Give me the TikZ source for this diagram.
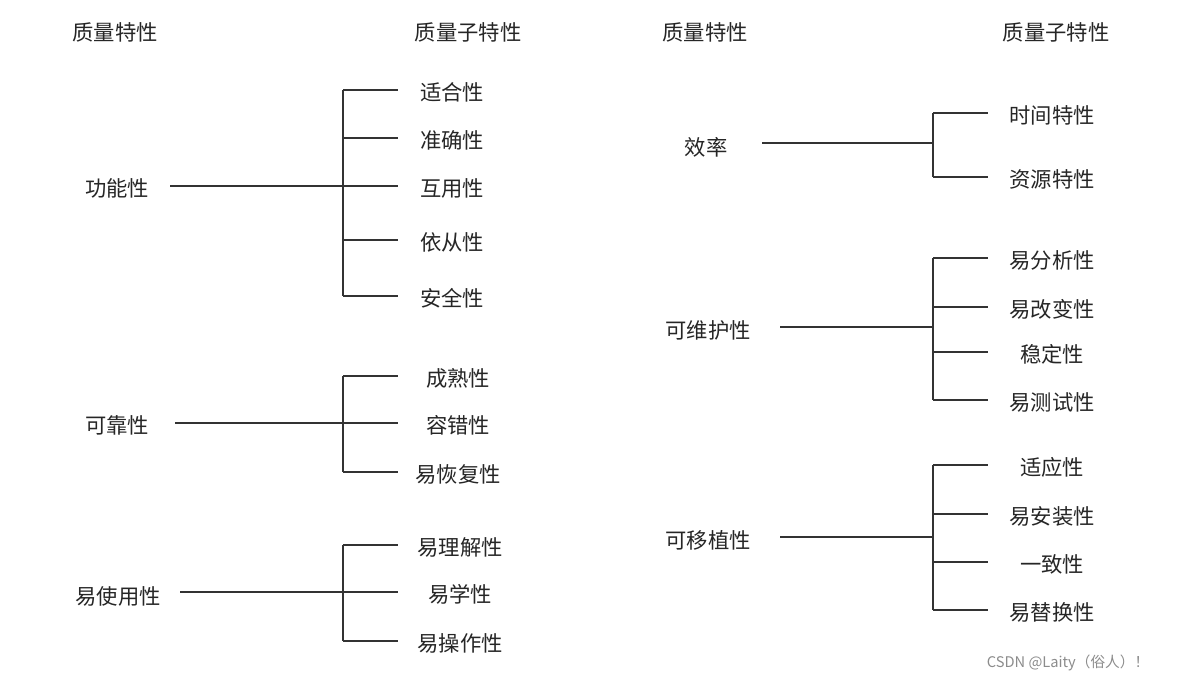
\documentclass[tikz,border=0pt]{standalone}
\usepackage{fontspec}
\newfontfamily\cjk{Noto Sans CJK SC}
\begin{document}
\begin{tikzpicture}[x=0.75pt,y=-0.75pt,
  lbl/.style={font=\cjk\fontsize{16}{18}\selectfont,inner sep=1pt,text=black!85},
  ln/.style={draw=black!80,line width=0.9pt}]
\useasboundingbox (0,0) rectangle (1184,683);
\fill[white] (0,0) rectangle (1184,683);
\node[lbl] (h1) at (115,32) {质量特性};
\node[lbl] (h2) at (468,32) {质量子特性};
\node[lbl] (h3) at (705,32) {质量特性};
\node[lbl] (h4) at (1056,32) {质量子特性};
% groups: name, x, y, lineStart, bracketX, subX, list of y/text
\foreach \g/\t/\mx/\my/\ls/\bx/\sx/\ly/\subs in {
  a/功能性/117/188/170/343/452/186/{90/适合性,138/准确性,186/互用性,240/依从性,296/安全性},
  b/可靠性/117/425/175/343/458/423/{376/成熟性,423/容错性,472/易恢复性},
  c/易使用性/118/596/180/343/460/592/{545/易理解性,592/易学性,641/易操作性},
  d/效率/706/147/762/933/1052/143/{113/时间特性,177/资源特性},
  e/可维护性/708/330/780/933/1052/327/{258/易分析性,307/易改变性,352/稳定性,400/易测试性},
  f/可移植性/708/540/780/933/1052/537/{465/适应性,514/易安装性,562/一致性,610/易替换性}}{
  \node[lbl] (m\g) at (\mx,\my) {\t};
  \coordinate (j\g) at (\bx,\ly);
  \draw[ln] (\ls,\ly) coordinate (s\g) -- (j\g);
  \foreach \yy/\st [count=\i] in \subs {
    \node[lbl] (n\g\i) at (\sx,\yy+2) {\st};
    \coordinate (b\g\i) at (\bx,\yy);
    \coordinate (e\g\i) at (\bx+55,\yy);
    \draw[ln] (b\g\i) -- (e\g\i);
  }
}
\draw[ln] (ba1) -- (ba5);
\draw[ln] (bb1) -- (bb3);
\draw[ln] (bc1) -- (bc3);
\draw[ln] (bd1) -- (bd2);
\draw[ln] (be1) -- (be4);
\draw[ln] (bf1) -- (bf4);
\node[font=\cjk\fontsize{11}{13}\selectfont,text=black!45] (wm) at (1068,663) {CSDN @Laity（俗人）！};
\end{tikzpicture}
\end{document}
